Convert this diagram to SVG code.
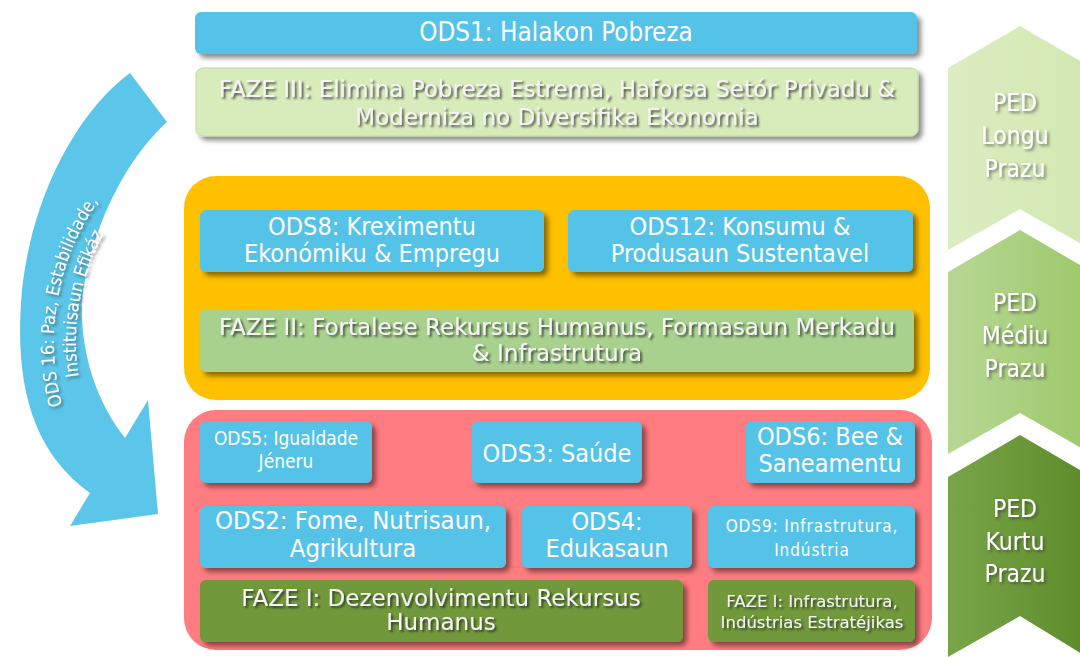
<svg xmlns="http://www.w3.org/2000/svg" width="1080" height="657" viewBox="0 0 1080 657">
<defs>
  <filter id="boxShadow" x="-10%" y="-20%" width="125%" height="150%">
    <feDropShadow dx="4" dy="4" stdDeviation="2.5" flood-color="#000" flood-opacity="0.45"/>
  </filter>
  <filter id="txtShadow" x="-10%" y="-30%" width="120%" height="170%">
    <feDropShadow dx="2" dy="2" stdDeviation="1.2" flood-color="#222" flood-opacity="0.75"/>
  </filter>
  <filter id="txtShadowSoft" x="-10%" y="-30%" width="120%" height="170%">
    <feDropShadow dx="2" dy="2" stdDeviation="1.5" flood-color="#333" flood-opacity="0.6"/>
  </filter>
  <linearGradient id="gTop" x1="0" y1="0" x2="1" y2="0">
    <stop offset="0" stop-color="#dcedc1"/>
    <stop offset="1" stop-color="#d2e7b0"/>
  </linearGradient>
  <linearGradient id="gMid" x1="0" y1="0" x2="1" y2="0">
    <stop offset="0" stop-color="#b7d895"/>
    <stop offset="1" stop-color="#9cc86a"/>
  </linearGradient>
  <linearGradient id="gBot" x1="0" y1="0" x2="1" y2="0">
    <stop offset="0" stop-color="#78a548"/>
    <stop offset="1" stop-color="#5d8a29"/>
  </linearGradient>
  <path id="arcOuter" d="M141.9,530.4 A246,246 0 0 1 215.9,110.8"/>
  <path id="arcInner" d="M156,513.6 A224,224 0 0 1 223.4,131.5"/>
</defs>
<style>
  text { font-family: "DejaVu Sans Condensed", "DejaVu Sans", sans-serif; text-anchor: middle; }
  .blue { fill: #55c2e8; filter: url(#boxShadow); }
  .w { fill: #ffffff; font-size: 25px; }
  .w19 { fill: #ffffff; font-size: 19px; }
  .w17 { fill: #ffffff; font-size: 17px; letter-spacing: 0.9px; }
  .faze { fill: #f4f4f4; font-family: "DejaVu Sans", sans-serif; font-size: 23px; filter: url(#txtShadow); }
  .fazeS { fill: #f4f4f4; font-family: "DejaVu Sans", sans-serif; font-size: 16.5px; filter: url(#txtShadow); }
  .ped { fill: #ffffff; font-size: 24.5px; filter: url(#txtShadowSoft); }
  .arrowtxt { fill: #ffffff; font-size: 18px; filter: url(#txtShadowSoft); }
</style>

<!-- Curved arrow ODS16 -->
<g id="ods16">
  <path d="M130,73 C80,110 33,190 22,290 C14,380 30,450 90,493 L70,526 L158,514 L148,400 L125,438 C95,400 80,350 82,300 C90,230 125,160 167,122 Z" fill="#5bc6ea"/>
  <text class="arrowtxt"><textPath href="#arcOuter" startOffset="50%">ODS 16: Paz, Estabilidade,</textPath></text>
  <text class="arrowtxt"><textPath href="#arcInner" startOffset="50%">Instituisaun Efikáz</textPath></text>
</g>

<!-- Chevrons -->
<g id="ped-longu">
  <path d="M948,68 L1020,26 L1092,68 L1092,250 L1020,209 L948,250 Z" fill="url(#gTop)"/>
  <text class="ped" x="1015" y="111">PED</text>
  <text class="ped" x="1015" y="144">Longu</text>
  <text class="ped" x="1015" y="177">Prazu</text>
</g>
<g id="ped-mediu">
  <path d="M948,272 L1020,230 L1092,272 L1092,454 L1020,413 L948,454 Z" fill="url(#gMid)"/>
  <text class="ped" x="1015" y="311">PED</text>
  <text class="ped" x="1015" y="344">Médiu</text>
  <text class="ped" x="1015" y="377">Prazu</text>
</g>
<g id="ped-kurtu">
  <path d="M948,477 L1020,435 L1092,477 L1092,660 L1020,616 L948,657 Z" fill="url(#gBot)"/>
  <text class="ped" x="1015" y="517">PED</text>
  <text class="ped" x="1015" y="550">Kurtu</text>
  <text class="ped" x="1015" y="582">Prazu</text>
</g>

<!-- Long term -->
<g id="ods1">
  <rect class="blue" x="195" y="12" width="722" height="42" rx="6"/>
  <text class="w" x="556" y="41" style="font-size:25.8px">ODS1: Halakon Pobreza</text>
</g>
<g id="faze3">
  <rect x="196" y="68" width="722" height="68" rx="7" fill="#d8ebba" stroke="#bcdc9c" stroke-width="1" filter="url(#boxShadow)"/>
  <text class="faze" x="557" y="97">FAZE III: Elimina Pobreza Estrema, Haforsa Setór Privadu &amp;</text>
  <text class="faze" x="557" y="125">Moderniza no Diversifika Ekonomia</text>
</g>

<!-- Medium term container -->
<g id="medium">
  <rect x="184" y="176" width="746" height="224" rx="32" fill="#ffc000"/>
</g>
<g id="ods8">
  <rect class="blue" x="200" y="210" width="344" height="62" rx="6"/>
  <text class="w" x="372" y="235">ODS8: Kreximentu</text>
  <text class="w" x="372" y="262">Ekonómiku &amp; Empregu</text>
</g>
<g id="ods12">
  <rect class="blue" x="568" y="210" width="345" height="62" rx="6"/>
  <text class="w" x="740" y="235">ODS12: Konsumu &amp;</text>
  <text class="w" x="740" y="262">Produsaun Sustentavel</text>
</g>
<g id="faze2">
  <rect x="200" y="309" width="714" height="63" rx="6" fill="#a9d18e" filter="url(#boxShadow)"/>
  <text class="faze" x="557" y="335">FAZE II: Fortalese Rekursus Humanus, Formasaun Merkadu</text>
  <text class="faze" x="557" y="361">&amp; Infrastrutura</text>
</g>

<!-- Short term container -->
<g id="short">
  <rect x="184" y="410" width="748" height="240" rx="32" fill="#ff7c80"/>
</g>
<g id="ods5">
  <rect class="blue" x="200" y="421" width="172" height="62" rx="6"/>
  <text class="w19" x="286" y="445">ODS5: Igualdade</text>
  <text class="w19" x="286" y="468">Jéneru</text>
</g>
<g id="ods3">
  <rect class="blue" x="472" y="421" width="170" height="62" rx="6"/>
  <text class="w" x="557" y="462">ODS3: Saúde</text>
</g>
<g id="ods6">
  <rect class="blue" x="746" y="421" width="169" height="62" rx="6"/>
  <text class="w" x="830" y="445">ODS6: Bee &amp;</text>
  <text class="w" x="830" y="472">Saneamentu</text>
</g>
<g id="ods2">
  <rect class="blue" x="200" y="506" width="306" height="62" rx="6"/>
  <text class="w" x="353" y="529" style="font-size:25.5px">ODS2: Fome, Nutrisaun,</text>
  <text class="w" x="353" y="557" style="font-size:25.5px">Agrikultura</text>
</g>
<g id="ods4">
  <rect class="blue" x="522" y="506" width="170" height="62" rx="6"/>
  <text class="w" x="607" y="530">ODS4:</text>
  <text class="w" x="607" y="557">Edukasaun</text>
</g>
<g id="ods9">
  <rect class="blue" x="708" y="506" width="207" height="62" rx="6"/>
  <text class="w17" x="812" y="532">ODS9: Infrastrutura,</text>
  <text class="w17" x="812" y="556">Indústria</text>
</g>
<g id="faze1">
  <rect x="200" y="580" width="483" height="62" rx="6" fill="#71993b" filter="url(#boxShadow)"/>
  <text class="faze" x="441" y="606">FAZE I: Dezenvolvimentu Rekursus</text>
  <text class="faze" x="441" y="630">Humanus</text>
</g>
<g id="faze1b">
  <rect x="708" y="580" width="207" height="62" rx="6" fill="#71993b" filter="url(#boxShadow)"/>
  <text class="fazeS" x="812" y="607">FAZE I: Infrastrutura,</text>
  <text class="fazeS" x="812" y="628">Indústrias Estratéjikas</text>
</g>

<g id="connectors"></g>
</svg>
